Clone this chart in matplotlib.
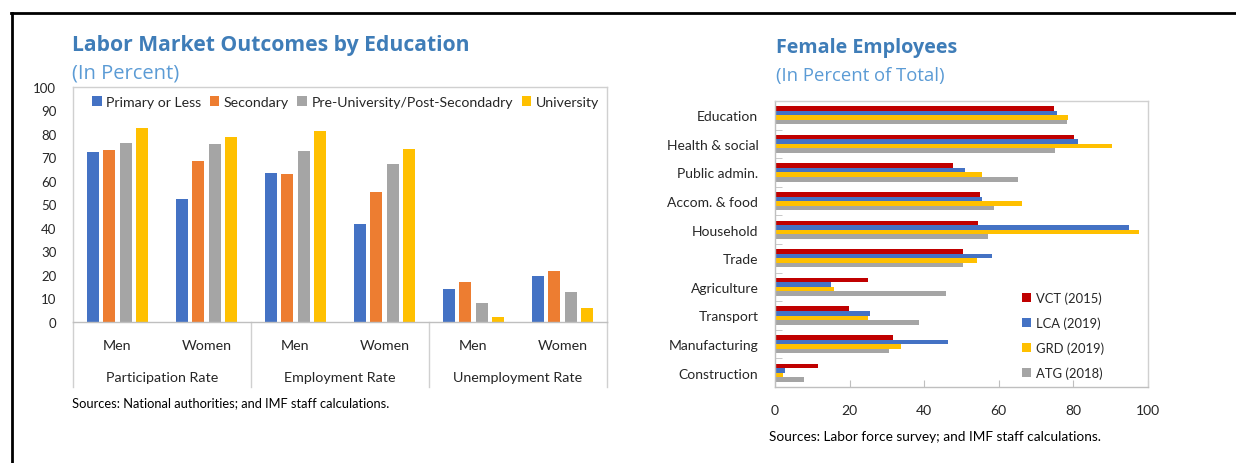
import matplotlib
matplotlib.use("Agg")
import matplotlib.pyplot as plt
import matplotlib.transforms as mtransforms
from matplotlib.lines import Line2D
import numpy as np

plt.rcParams['font.family'] = ['Lato', 'DejaVu Sans']

# left chart data
edu_levels = ["Primary or Less", "Secondary", "Pre-University/Post-Secondadry", "University"]
edu_colors = ["#4472C4", "#ED7D31", "#A5A5A5", "#FFC000"]
sub_cats = ["Men", "Women", "Men", "Women", "Men", "Women"]
groups = ["Participation Rate", "Employment Rate", "Unemployment Rate"]
primary = [72.4, 52.4, 63.2, 41.6, 14.2, 19.5]
secondary = [73.2, 68.5, 62.8, 55.5, 16.9, 21.6]
pre_uni = [76.1, 75.7, 72.6, 67.3, 8.0, 12.6]
university = [82.4, 78.7, 81.4, 73.6, 2.3, 6.0]

# right chart data
sectors = ["Education", "Health & social", "Public admin.", "Accom. & food", "Household",
           "Trade", "Agriculture", "Transport", "Manufacturing", "Construction"]
countries = ["VCT (2015)", "LCA (2019)", "GRD (2019)", "ATG (2018)"]
country_colors = ["#C00000", "#4472C4", "#FFC000", "#A5A5A5"]
vct = [74.9, 80.1, 47.8, 55.0, 54.3, 50.3, 24.8, 19.9, 31.6, 11.6]
lca = [75.5, 81.1, 50.9, 55.6, 94.9, 58.3, 15.0, 25.4, 46.4, 2.6]
grd = [78.6, 90.3, 55.6, 66.3, 97.7, 54.1, 15.9, 24.8, 33.8, 2.2]
atg = [78.3, 75.2, 65.1, 58.6, 57.0, 50.3, 45.8, 38.7, 30.6, 7.8]

title_color = "#3F7DB8"
sub_color = "#5B9BD5"
border = "#D0D0D0"
txt = "#262626"

fig = plt.figure(figsize=(12.36, 4.64), dpi=100)

# outer frame lines
fig.add_artist(Line2D([11/1236, 1], [1-14/464, 1-14/464], color="black", lw=2))
fig.add_artist(Line2D([12/1236, 12/1236], [0, 1-14/464], color="black", lw=2))

# ---------- left chart ----------
ax1 = fig.add_axes([73/1236, 1-323/464, 534/1236, 235/464])
x = np.arange(len(sub_cats))
step = 0.18
width = 0.135
for i, (vals, lab, col) in enumerate(zip([primary, secondary, pre_uni, university], edu_levels, edu_colors)):
    ax1.bar(x + (i - 1.5) * step, vals, width, color=col, label=lab, zorder=2)
ax1.set_ylim(0, 100)
ax1.set_xlim(-0.5, 5.5)
ax1.set_yticks(range(0, 101, 10))
ax1.tick_params(axis='y', length=0, pad=12, labelsize=9.5, labelcolor=txt)
ax1.set_xticks([])
for s in ax1.spines.values():
    s.set_color(border)
    s.set_linewidth(1)
ax1.spines['bottom'].set_color("#BFBFBF")

trans = mtransforms.blended_transform_factory(ax1.transData, ax1.transAxes)
for xi, lab in zip(x, sub_cats):
    ax1.text(xi, -0.098, lab, transform=trans, ha='center', va='center', fontsize=10.3, color=txt)
for gi, g in enumerate(groups):
    ax1.text(2 * gi + 0.5, -0.234, g, transform=trans, ha='center', va='center', fontsize=10.3, color=txt)
for sx in [-0.5, 1.5, 3.5, 5.5]:
    ax1.add_line(Line2D([sx, sx], [0, -0.277], transform=trans, color=border, lw=1, clip_on=False))

ax1.legend(loc='upper center', bbox_to_anchor=(0.51, 1.0), ncol=4, frameon=False, fontsize=10.2,
           handlelength=0.7, handleheight=0.7, handletextpad=0.3, columnspacing=0.6,
           labelcolor=txt, borderaxespad=0.25)

fig.text(72/1236, 1-45/464, "Labor Market Outcomes by Education", fontsize=15.2, fontweight='bold',
         color=title_color, va='center', family=['Open Sans', 'DejaVu Sans'])
fig.text(72/1236, 1-74/464, "(In Percent)", fontsize=14.5, color=sub_color, va='center',
         family=['Open Sans', 'DejaVu Sans'])
fig.text(72/1236, 1-403/464, "Sources: National authorities; and IMF staff calculations.",
         fontsize=9.3, color="black", va='center')

# ---------- right chart ----------
ax2 = fig.add_axes([775/1236, 1-388/464, 373/1236, 286/464])
y = np.arange(len(sectors))
h = 0.16
for i, (vals, lab, col) in enumerate(zip([vct, lca, grd, atg], countries, country_colors)):
    ax2.barh(y + (i - 1.5) * h, vals, h, color=col, label=lab, zorder=2)
ax2.set_ylim(len(sectors) - 0.5, -0.5)
ax2.set_xlim(0, 100)
ax2.set_yticks(y)
ax2.set_yticklabels(sectors)
ax2.set_yticks(np.arange(0.5, len(sectors) - 1, 1), minor=True)
ax2.tick_params(axis='y', which='major', length=0, pad=12, labelsize=10, labelcolor=txt)
ax2.tick_params(axis='y', which='minor', direction='in', length=5, color="#BFBFBF")
ax2.set_xticks(range(0, 101, 20))
ax2.tick_params(axis='x', direction='in', length=5, color="#BFBFBF", pad=12, labelsize=10, labelcolor=txt)
for s in ax2.spines.values():
    s.set_color(border)
    s.set_linewidth(1)
ax2.spines['left'].set_color("#BFBFBF")
ax2.spines['bottom'].set_color("#BFBFBF")

ax2.legend(loc='center left', bbox_to_anchor=(0.63, 0.18), frameon=False, fontsize=9.4,
           handlelength=0.7, handleheight=0.7, handletextpad=0.4, labelspacing=0.95,
           labelcolor=txt)

fig.text(776/1236, 1-48/464, "Female Employees", fontsize=14.2, fontweight='bold',
         color=title_color, va='center', family=['Open Sans', 'DejaVu Sans'])
fig.text(776/1236, 1-76/464, "(In Percent of Total)", fontsize=13.3, color=sub_color, va='center',
         family=['Open Sans', 'DejaVu Sans'])
fig.text(935/1236, 1-437/464, "Sources: Labor force survey; and IMF staff calculations.",
         fontsize=9.8, color="black", va='center', ha='center')

fig.savefig("out.png", dpi=100)
